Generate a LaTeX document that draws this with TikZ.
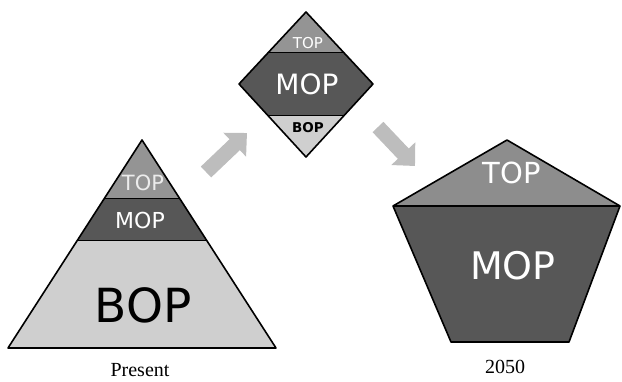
\documentclass[tikz,border=0pt]{standalone}
\usepackage{fontspec}
\setmainfont{Liberation Serif}
\newfontfamily\opfont{DejaVu Sans}
\usetikzlibrary{arrows.meta,calc}

\definecolor{topgray}{rgb}{0.580000, 0.580000, 0.580000}
\definecolor{mopgray}{rgb}{0.340000, 0.340000, 0.340000}
\definecolor{bopgray}{rgb}{0.810000, 0.810000, 0.810000}
\definecolor{arrowgray}{rgb}{0.740000, 0.740000, 0.740000}

\tikzset{
  outline/.style={draw=black, line width=1.6pt, line join=round},
  band/.style={draw=black, line width=1.2pt},
  oplabel/.style={font=\opfont, inner sep=0pt},
  caption/.style={inner sep=0pt},
  shift arrow/.style={draw=arrowgray, line width=15pt,
    -{Triangle[width=32pt,length=17pt]}}
}

\begin{document}
\begin{tikzpicture}[x=1pt,y=-1pt]
\useasboundingbox (0,0) rectangle (622,382);

% present: pyramid
\coordinate (tApex) at (142,140);
\coordinate (tLeft) at (8,348);
\coordinate (tRight) at (276,348);
\coordinate (tTL) at ($(tApex)!0.28!(tLeft)$);
\coordinate (tTR) at ($(tApex)!0.28!(tRight)$);
\coordinate (tML) at ($(tApex)!0.485!(tLeft)$);
\coordinate (tMR) at ($(tApex)!0.485!(tRight)$);
\fill[topgray] (tApex)--(tTL)--(tTR)--cycle;
\fill[mopgray] (tTL)--(tML)--(tMR)--(tTR)--cycle;
\fill[bopgray] (tML)--(tLeft)--(tRight)--(tMR)--cycle;
\draw[band] (tTL)--(tTR);
\draw[band] (tML)--(tMR);
\draw[outline] (tApex)--(tLeft)--(tRight)--cycle;
\node[oplabel, text=white!85!gray, font=\opfont\fontsize{21}{23}\selectfont] (pTop) at (143,183) {TOP};
\node[oplabel, text=white, font=\opfont\fontsize{22}{24}\selectfont] (pMop) at (140,220) {MOP};
\node[oplabel, text=black, font=\opfont\fontsize{47}{52}\selectfont] (pBop) at (143,305) {BOP};
\node[caption, font=\fontsize{20}{22}\selectfont] (present) at (140,370) {Present};

% transition: diamond
\coordinate (dTop) at (306,12);
\coordinate (dLeft) at (239,84);
\coordinate (dRight) at (373,84);
\coordinate (dBottom) at (306,157);
\coordinate (dTL) at ($(dTop)!0.56!(dLeft)$);
\coordinate (dTR) at ($(dTop)!0.56!(dRight)$);
\coordinate (dBL) at ($(dBottom)!0.57!(dLeft)$);
\coordinate (dBR) at ($(dBottom)!0.57!(dRight)$);
\fill[topgray] (dTop)--(dTL)--(dTR)--cycle;
\fill[mopgray] (dTL)--(dLeft)--(dBL)--(dBR)--(dRight)--(dTR)--cycle;
\fill[bopgray] (dBL)--(dBottom)--(dBR)--cycle;
\draw[band] (dTL)--(dTR);
\draw[band] (dBL)--(dBR);
\draw[outline] (dTop)--(dLeft)--(dBottom)--(dRight)--cycle;
\node[oplabel, text=white, font=\opfont\fontsize{15}{17}\selectfont] (dTopLbl) at (308,43) {TOP};
\node[oplabel, text=white, font=\opfont\fontsize{28}{31}\selectfont] (dMopLbl) at (307,84) {MOP};
\node[oplabel, text=black, font=\opfont\bfseries\fontsize{13.5}{15}\selectfont] (dBopLbl) at (308,128) {BOP};

% 2050: pentagon
\coordinate (pgLeft) at (393,206);
\coordinate (pgTop) at (507,140);
\coordinate (pgRight) at (620,206);
\coordinate (pgBR) at (569,342);
\coordinate (pgBL) at (451,342);
\fill[topgray!95!black] (pgLeft)--(pgTop)--(pgRight)--cycle;
\fill[mopgray] (pgLeft)--(pgRight)--(pgBR)--(pgBL)--cycle;
\draw[band] (pgLeft)--(pgRight);
\draw[outline] (pgLeft)--(pgTop)--(pgRight)--(pgBR)--(pgBL)--cycle;
\node[oplabel, text=white, font=\opfont\fontsize{29}{32}\selectfont] (fTop) at (512,173) {TOP};
\node[oplabel, text=white, font=\opfont\fontsize{38}{42}\selectfont] (fMop) at (513,266) {MOP};
\node[caption, font=\fontsize{20}{22}\selectfont] (year) at (505,367) {2050};

% shifts
\coordinate (up1) at (206,172);
\coordinate (up2) at (247,133);
\coordinate (down1) at (378,127);
\coordinate (down2) at (415,166);
\draw[shift arrow] (up1)--(up2);
\draw[shift arrow] (down1)--(down2);
\end{tikzpicture}
\end{document}
